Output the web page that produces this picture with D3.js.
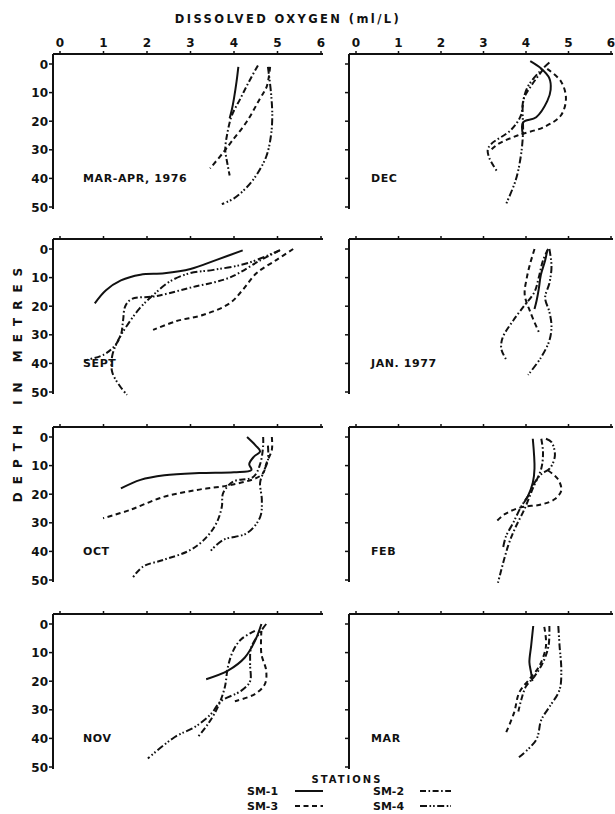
<!DOCTYPE html>
<html><head><meta charset="utf-8">
<script src="https://cdn.jsdelivr.net/npm/d3@7"></script>
<style>
html,body{margin:0;padding:0;background:#fff;}
svg{display:block;}
text{font-family:"DejaVu Sans",sans-serif;font-weight:bold;fill:#111;}
</style></head>
<body>
<svg id="chart" width="615" height="814"></svg>
<script>
// ---------- DATA ----------
const stations = ["SM-1", "SM-2", "SM-3", "SM-4"];
const oxygenTicks = [0, 1, 2, 3, 4, 5, 6];
const depthTicks = [0, 10, 20, 30, 40, 50];
const panelNames = ["MAR-APR, 1976", "DEC", "SEPT", "JAN. 1977", "OCT", "FEB", "NOV", "MAR"];

// each series: [oxygen ml/L, depth m]  order SM-1, SM-2, SM-3, SM-4
const marApr = [
  [[4.1,1],[4.06,6],[4.0,12],[3.95,16],[3.9,19]],
  [[4.55,0.5],[4.35,6],[4.15,12],[3.95,18],[3.85,24],[3.8,30],[3.85,35],[3.9,39]],
  [[4.83,1],[4.75,8],[4.6,12],[4.3,20],[3.95,27],[3.75,31],[3.45,36.5]],
  [[4.78,1],[4.85,10],[4.88,18],[4.85,25],[4.75,32],[4.55,38],[4.3,43],[4.0,47],[3.72,49]]
];
const dec = [
  [[4.1,-1],[4.35,1.5],[4.55,5],[4.58,9],[4.5,13],[4.24,18.6],[3.93,20.4],[3.93,25]],
  [[4.4,2],[4.15,7],[3.95,12],[3.88,18],[3.65,23],[3.18,28],[3.1,30],[3.14,33],[3.34,38]],
  [[4.5,1.7],[4.82,6],[4.94,12],[4.82,18],[4.43,22],[3.8,25],[3.34,28],[3.18,30]],
  [[4.55,-0.5],[4.3,3],[4.04,8],[3.93,13.6],[3.93,24],[3.88,32],[3.76,40.5],[3.53,49]]
];
const sept = [
  [[4.2,0.5],[3.6,3.8],[3.0,7],[2.4,8.5],[1.85,9],[1.4,11],[1.05,14.5],[0.8,19]],
  [[5.05,0.5],[4.6,4],[3.9,10],[3.0,13.5],[2.2,16.5],[1.65,17.5],[1.5,20],[1.45,25],[1.4,30],[1.25,34],[1.0,37],[0.55,39]],
  [[5.36,0],[4.98,3.8],[4.52,8.4],[4.2,14.3],[3.9,19],[3.3,23],[2.68,25.2],[2.14,28.3]],
  [[5.06,0.4],[4.3,5],[3.53,7.3],[3.0,8.4],[2.53,11.3],[2.15,16],[1.84,20.6],[1.53,27],[1.34,31.8],[1.2,37.4],[1.2,43],[1.38,48],[1.54,51]]
];
const jan = [
  [[4.5,0.5],[4.45,4],[4.35,9],[4.3,14],[4.25,18],[4.2,21]],
  [[4.52,0],[4.4,4],[4.3,10],[4.2,15],[3.95,20],[3.7,25],[3.45,31],[3.42,35],[3.55,39]],
  [[4.2,0],[4.1,5],[4.02,10],[3.97,16],[4.1,22],[4.3,29]],
  [[4.55,0],[4.6,6],[4.55,12],[4.45,17],[4.55,22],[4.6,27],[4.55,32],[4.35,38],[4.05,44]]
];
const oct = [
  [[4.3,0],[4.5,3],[4.6,5],[4.45,7],[4.35,9.5],[4.4,11.5],[4.0,12.3],[3.2,12.6],[2.4,13.4],[1.85,15],[1.4,18]],
  [[4.67,0],[4.67,3],[4.6,9.5],[4.44,14],[3.98,15.6],[3.75,19.6],[3.72,24.4],[3.6,30],[3.37,35],[3.0,39.5],[2.37,43],[1.91,45.3],[1.68,49]],
  [[4.87,0],[4.87,4.5],[4.75,9],[4.67,12.6],[4.52,14.3],[3.91,16.8],[3.15,18.5],[2.37,21],[1.61,25.5],[0.99,28.4]],
  [[4.78,3],[4.78,8],[4.67,12.6],[4.6,16],[4.64,22],[4.6,28],[4.3,33.6],[3.75,36],[3.45,40]]
];
const feb = [
  [[4.16,0.6],[4.2,11],[4.16,16],[4.05,20.5],[3.95,23]],
  [[4.36,0.6],[4.4,5.4],[4.36,11],[4.16,18],[3.97,25],[3.74,32],[3.58,38],[3.34,51]],
  [[4.52,11.7],[4.75,14.7],[4.83,18.7],[4.68,21.7],[4.36,23.6],[3.88,24.6],[3.5,27],[3.27,30]],
  [[4.47,0.6],[4.6,1.8],[4.68,6.5],[4.56,11],[4.36,13],[4.2,16],[4.1,19.4],[3.88,24.5],[3.7,30],[3.53,34.7],[3.46,38.8]]
];
const nov = [
  [[4.63,0],[4.48,6],[4.25,11.7],[3.86,16.3],[3.36,19.3]],
  [[4.48,2.4],[4.16,5.4],[3.98,9.4],[3.86,15],[3.79,22],[3.63,29],[3.4,35],[3.17,39.5]],
  [[4.63,2.4],[4.63,10.5],[4.74,16.3],[4.71,21],[4.48,24.5],[4.02,27]],
  [[4.74,0],[4.4,8],[4.37,14],[4.37,20],[4.16,23.4],[3.7,27],[3.47,31.5],[3.1,36],[2.64,39.5],[2.02,47]]
];
const mar = [
  [[4.17,0.7],[4.12,7.7],[4.08,13.4],[4.12,17],[4.15,20]],
  [[4.55,0.7],[4.53,7.7],[4.4,13.4],[4.2,18.3],[4.0,21.8],[3.89,26.4],[3.82,30.6]],
  [[4.43,1],[4.47,7.7],[4.31,14.8],[4.08,19.3],[3.84,24],[3.72,31],[3.53,38]],
  [[4.76,0.7],[4.79,7.7],[4.83,15.8],[4.79,23],[4.55,29],[4.36,33.5],[4.24,40.5],[3.82,46.8]]
];
const panelData = [marApr, dec, sept, jan, oct, feb, nov, mar];

// ---------- STYLE / LAYOUT ----------
const dashes = [null, "6,2.5,1.6,2.5", "5,3.5", "7,2.5,1.6,2,1.6,2.5"];
const rowTops = [54, 239, 427, 614];
const cols = [
  {axisX: 53, x0: 60, x6: 321},
  {axisX: 349, x0: 356, x6: 611}
];
const ink = "#111";

const svg = d3.select("#chart");
svg.append("rect").attr("width", 615).attr("height", 814).attr("fill", "#fff");

svg.append("text").attr("x", 288).attr("y", 23).attr("text-anchor", "middle")
  .attr("font-size", 11.5).attr("letter-spacing", 2.4).text("DISSOLVED OXYGEN (ml/L)");

svg.append("text").attr("transform", "translate(22,381) rotate(-90)")
  .attr("text-anchor", "middle").attr("font-size", 12).attr("letter-spacing", 8)
  .text("DEPTH IN METRES");

panelData.forEach((series, i) => {
  const c = cols[i % 2];
  const top = rowTops[Math.floor(i / 2)];
  const x = d3.scaleLinear().domain([0, 6]).range([c.x0, c.x6]);
  const y = d3.scaleLinear().domain([0, 50]).range([top + 10, top + 153]);
  const g = svg.append("g");

  g.append("line").attr("x1", c.axisX).attr("x2", c.x6 + 2).attr("y1", top).attr("y2", top)
    .attr("stroke", ink).attr("stroke-width", 2);
  oxygenTicks.forEach(d => {
    g.append("line").attr("x1", x(d)).attr("x2", x(d)).attr("y1", top).attr("y2", top - 3)
      .attr("stroke", ink).attr("stroke-width", 1.5);
    if (i < 2) {
      g.append("text").attr("x", x(d)).attr("y", top - 7).attr("text-anchor", "middle")
        .attr("font-size", 12).text(d);
    }
  });

  g.append("line").attr("x1", c.axisX).attr("x2", c.axisX).attr("y1", top).attr("y2", y(50) + 2)
    .attr("stroke", ink).attr("stroke-width", 2);
  depthTicks.forEach(d => {
    g.append("line").attr("x1", c.axisX - 4).attr("x2", c.axisX).attr("y1", y(d)).attr("y2", y(d))
      .attr("stroke", ink).attr("stroke-width", 1.5);
    if (i % 2 === 0) {
      g.append("text").attr("x", c.axisX - 5).attr("y", y(d) + 4.5).attr("text-anchor", "end")
        .attr("font-size", 12).text(d);
    }
  });

  const line = d3.line().x(d => x(d[0])).y(d => y(d[1])).curve(d3.curveCatmullRom.alpha(0.5));
  series.forEach((pts, s) => {
    g.append("path").attr("d", line(pts)).attr("fill", "none").attr("stroke", ink)
      .attr("stroke-width", 2).attr("stroke-dasharray", dashes[s]);
  });

  g.append("text").attr("x", c.axisX + (i % 2 === 0 ? 30 : 22)).attr("y", y(40) + 4)
    .attr("font-size", 11).attr("letter-spacing", 0.6).text(panelNames[i]);
});

svg.append("text").attr("x", 347).attr("y", 783).attr("text-anchor", "middle")
  .attr("font-size", 10).attr("letter-spacing", 2).text("STATIONS");
const legPos = [[247, 795], [373, 795], [247, 810], [373, 810]];
stations.forEach((s, k) => {
  const [lx, ly] = legPos[k];
  svg.append("text").attr("x", lx).attr("y", ly).attr("font-size", 11).text(s);
  svg.append("line").attr("x1", lx + (k % 2 === 0 ? 48 : 47)).attr("x2", lx + (k % 2 === 0 ? 76 : 78))
    .attr("y1", ly - 4).attr("y2", ly - 4).attr("stroke", ink).attr("stroke-width", 2)
    .attr("stroke-dasharray", dashes[k]);
});
</script>
</body></html>
